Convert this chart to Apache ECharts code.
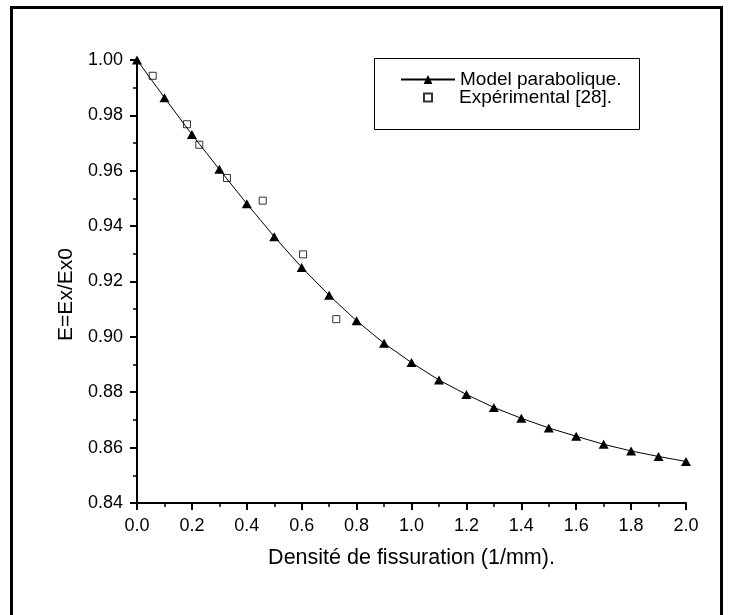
<!DOCTYPE html>
<html>
<head>
<meta charset="utf-8">
<script src="https://cdn.jsdelivr.net/npm/echarts@6/dist/echarts.min.js"></script>
<style>
html,body{margin:0;padding:0;background:#fff;}
#chart{width:729px;height:615px;}
</style>
</head>
<body>
<div id="chart"></div>
<script>
var modelX = [0.0, 0.1, 0.2, 0.3, 0.4, 0.5, 0.6, 0.7, 0.8, 0.9, 1.0, 1.1, 1.2, 1.3, 1.4, 1.5, 1.6, 1.7, 1.8, 1.9, 2.0];
var modelY = [1.000, 0.9864, 0.9731, 0.9605, 0.9481, 0.9362, 0.9251, 0.9150, 0.9058, 0.8977, 0.8907, 0.8844, 0.8792, 0.8745, 0.8706, 0.8671, 0.8641, 0.8612, 0.8588, 0.8568, 0.8550];
var expX = [0.057, 0.182, 0.227, 0.328, 0.458, 0.605, 0.726];
var expY = [0.9943, 0.9768, 0.9694, 0.9574, 0.9492, 0.9298, 0.9064];
var seriesNames = ['Model parabolique.', 'Expérimental [28].'];
var xTitle = 'Densité de fissuration (1/mm).';
var yTitle = 'E=Ex/Ex0';

var FONT = "'Liberation Sans', Arial, sans-serif";
var chart = echarts.init(document.getElementById('chart'), null, {renderer: 'canvas'});

function pairs(xs, ys) { return xs.map(function (x, i) { return [x, ys[i]]; }); }

var option = {
  animation: false,
  backgroundColor: '#ffffff',
  grid: {left: 137, right: 43, top: 60, bottom: 112},
  xAxis: {
    type: 'value', min: 0, max: 2, interval: 0.2,
    name: xTitle, nameLocation: 'middle', nameGap: 44,
    nameTextStyle: {fontFamily: FONT, fontSize: 21.5, color: '#000'},
    axisLine: {show: true, onZero: false, lineStyle: {color: '#000', width: 2}},
    axisTick: {show: true, inside: false, length: 7, lineStyle: {color: '#000', width: 2}},
    minorTick: {show: true, splitNumber: 2, length: 4, lineStyle: {color: '#000', width: 1.5}},
    axisLabel: {margin: 14, fontFamily: FONT, fontSize: 18, color: '#000',
      formatter: function (v) { return v.toFixed(1); }},
    splitLine: {show: false}
  },
  yAxis: {
    type: 'value', min: 0.84, max: 1.00, interval: 0.02,
    name: yTitle, nameLocation: 'middle', nameGap: 59, nameRotate: 90,
    nameTextStyle: {fontFamily: FONT, fontSize: 21, color: '#000', padding: [0, 26, 0, 0]},
    axisLine: {show: true, onZero: false, lineStyle: {color: '#000', width: 2}},
    axisTick: {show: true, inside: false, length: 7, lineStyle: {color: '#000', width: 2}},
    minorTick: {show: true, splitNumber: 2, length: 4, lineStyle: {color: '#000', width: 1.5}},
    axisLabel: {margin: 14, fontFamily: FONT, fontSize: 18, color: '#000',
      formatter: function (v) { return v.toFixed(2); }},
    splitLine: {show: false}
  },
  legend: [
    {
      data: [seriesNames[0]], left: 400, top: 70, orient: 'vertical',
      itemWidth: 54, itemHeight: 11, itemGap: 0, padding: 0,
      textStyle: {fontFamily: FONT, fontSize: 19, color: '#000', lineHeight: 19}
    },
    {
      data: [seriesNames[1]], left: 423, top: 88, orient: 'vertical',
      itemWidth: 8, itemHeight: 8, itemGap: 0, padding: 0,
      textStyle: {fontFamily: FONT, fontSize: 19, color: '#000', lineHeight: 19, padding: [0, 0, 0, 22]}
    }
  ],
  graphic: [
    {type: 'rect', left: 374, top: 58, z: -1, silent: true,
      shape: {width: 265, height: 71}, style: {fill: '#fff', stroke: '#000', lineWidth: 1}},
    {type: 'rect', z: -2, silent: true,
      shape: {x: 11.5, y: 7.5, width: 710, height: 630},
      style: {fill: 'none', stroke: '#000', lineWidth: 3}}
  ],
  series: [
    {
      name: seriesNames[0], type: 'line', data: pairs(modelX, modelY),
      symbol: 'triangle', symbolSize: [10, 9], clip: false,
      lineStyle: {color: '#000', width: 1},
      itemStyle: {color: '#000'}
    },
    {
      name: seriesNames[1], type: 'scatter', data: pairs(expX, expY),
      symbol: 'rect', symbolSize: 7, clip: false,
      itemStyle: {color: '#fff', borderColor: '#000', borderWidth: 1}
    }
  ]
};
chart.setOption(option);
</script>
</body>
</html>
